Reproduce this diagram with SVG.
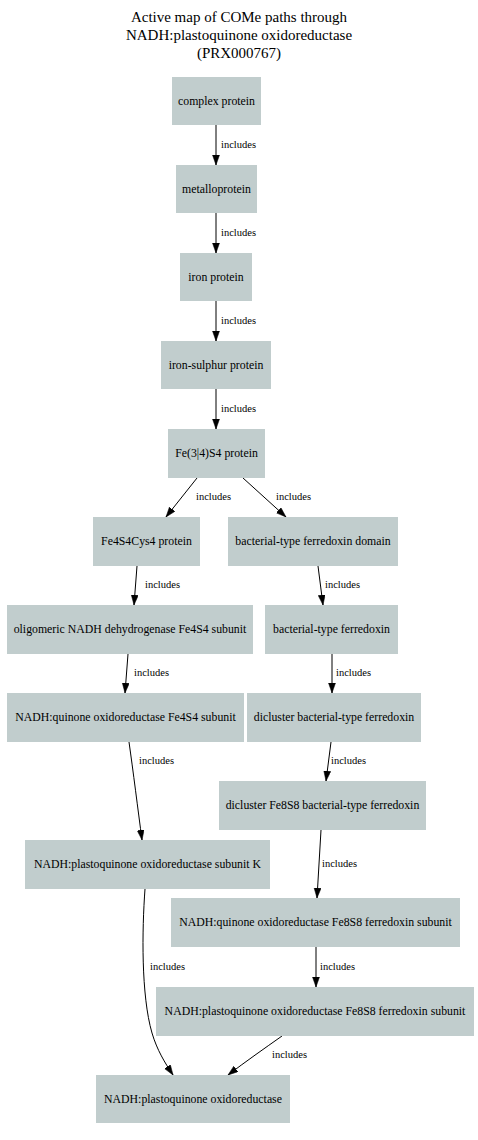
<svg xmlns="http://www.w3.org/2000/svg" width="478" height="1140" viewBox="0 0 478 1140">
<style>
.bg{fill:#ffffff}
.node rect{fill:#c1cdcd;stroke:none}
.node text{font-family:"Liberation Serif",Times,serif;font-size:11.8px;fill:#000;text-anchor:middle}
.title{font-family:"Liberation Serif",Times,serif;font-size:15px;fill:#000;text-anchor:middle}
.edges path{fill:none;stroke:#000;stroke-width:1;marker-end:url(#arr)}
.edges text{font-family:"Liberation Serif",Times,serif;font-size:10.5px;fill:#000}
</style>
<defs>
<marker id="arr" markerUnits="userSpaceOnUse" markerWidth="11" markerHeight="8" refX="10" refY="3.5" orient="auto">
<path d="M0,0 L10,3.5 L0,7 z" fill="#000" stroke="#000" stroke-width="0.5"/>
</marker>
</defs>
<rect class="bg" x="0" y="0" width="478" height="1140"/>
<g id="title">
<text class="title" x="239" y="22">Active map of COMe paths through</text>
<text class="title" x="239" y="40">NADH:plastoquinone oxidoreductase</text>
<text class="title" x="239" y="58">(PRX000767)</text>
</g>
<g class="edges" id="edges">
<path d="M216,125 L216,165"/><text x="221" y="148">includes</text>
<path d="M216,213 L216,253"/><text x="221" y="236">includes</text>
<path d="M216,301 L216,341"/><text x="221" y="324">includes</text>
<path d="M216,389 L216,429"/><text x="221" y="412">includes</text>
<path d="M197,478 L166,517"/><text x="196" y="500">includes</text>
<path d="M243,478 L286,517"/><text x="276" y="500">includes</text>
<path d="M137,566 L134,605"/><text x="145" y="588">includes</text>
<path d="M318,566 L323,605"/><text x="325" y="588">includes</text>
<path d="M128,654 L125,693"/><text x="134" y="676">includes</text>
<path d="M332,654 L332,693"/><text x="336" y="676">includes</text>
<path d="M129,742 C133,770 138,810 142,840"/><text x="139" y="764">includes</text>
<path d="M331,742 L326,781"/><text x="331" y="764">includes</text>
<path d="M321,830 L317,898"/><text x="322" y="867">includes</text>
<path d="M145,889 C142,930 141,995 152,1033 C157,1050 165,1063 173,1075"/><text x="150" y="970">includes</text>
<path d="M316,947 L316,987"/><text x="320" y="970">includes</text>
<path d="M282,1036 C265,1048 245,1062 228,1075"/><text x="272" y="1058">includes</text>
</g>
<g class="node" id="n1"><rect x="172" y="77" width="89" height="48"/><text x="216.5" y="105">complex protein</text></g>
<g class="node" id="n2"><rect x="176" y="165" width="81" height="48"/><text x="216.5" y="193">metalloprotein</text></g>
<g class="node" id="n3"><rect x="180" y="253" width="72" height="48"/><text x="216" y="281">iron protein</text></g>
<g class="node" id="n4"><rect x="161" y="341" width="110" height="48"/><text x="216" y="369">iron-sulphur protein</text></g>
<g class="node" id="n5"><rect x="168" y="429" width="97" height="49"/><text x="216.5" y="457">Fe(3|4)S4 protein</text></g>
<g class="node" id="n6"><rect x="93" y="517" width="107" height="49"/><text x="146.5" y="545">Fe4S4Cys4 protein</text></g>
<g class="node" id="n7"><rect x="228" y="517" width="170" height="49"/><text x="313" y="545">bacterial-type ferredoxin domain</text></g>
<g class="node" id="n8"><rect x="7" y="605" width="246" height="49"/><text x="130" y="633">oligomeric NADH dehydrogenase Fe4S4 subunit</text></g>
<g class="node" id="n9"><rect x="265" y="605" width="133" height="49"/><text x="331.5" y="633">bacterial-type ferredoxin</text></g>
<g class="node" id="n10"><rect x="7" y="693" width="237" height="49"/><text x="125.5" y="721">NADH:quinone oxidoreductase Fe4S4 subunit</text></g>
<g class="node" id="n11"><rect x="247" y="693" width="174" height="49"/><text x="334" y="721">dicluster bacterial-type ferredoxin</text></g>
<g class="node" id="n12"><rect x="219" y="781" width="207" height="49"/><text x="322.5" y="809">dicluster Fe8S8 bacterial-type ferredoxin</text></g>
<g class="node" id="n13"><rect x="25" y="840" width="245" height="49"/><text x="147.5" y="868">NADH:plastoquinone oxidoreductase subunit K</text></g>
<g class="node" id="n14"><rect x="171" y="898" width="289" height="49"/><text x="315.5" y="926">NADH:quinone oxidoreductase Fe8S8 ferredoxin subunit</text></g>
<g class="node" id="n15"><rect x="156" y="987" width="318" height="49"/><text x="315" y="1015">NADH:plastoquinone oxidoreductase Fe8S8 ferredoxin subunit</text></g>
<g class="node" id="n16"><rect x="96" y="1075" width="194" height="48"/><text x="193" y="1103">NADH:plastoquinone oxidoreductase</text></g>
</svg>
